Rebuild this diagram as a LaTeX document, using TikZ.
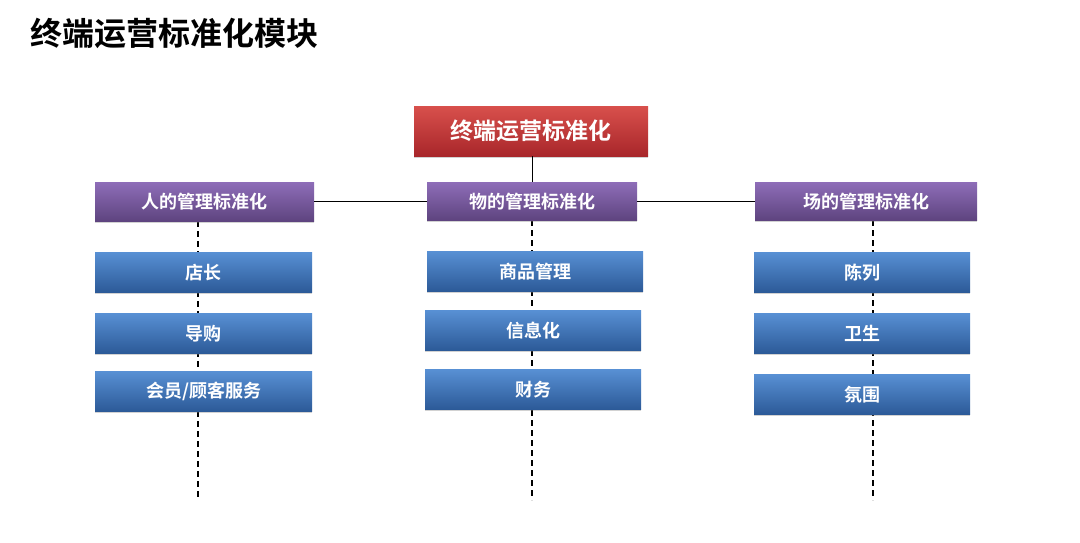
\documentclass[tikz,border=0pt]{standalone}
\usepackage{fontspec}
\newfontfamily\cjk{Noto Sans CJK SC}[BoldFont={Noto Sans CJK SC Bold}]
\usetikzlibrary{shadows}
\definecolor{redtop}{HTML}{D8504C}
\definecolor{redbot}{HTML}{A8262A}
\definecolor{purtop}{HTML}{8E6DB8}
\definecolor{purbot}{HTML}{5E447F}
\definecolor{bluetop}{HTML}{5890D4}
\definecolor{bluebot}{HTML}{2C5A98}
\begin{document}
\begin{tikzpicture}[x=1pt,y=-1pt,
  base/.style={anchor=north west,inner sep=0pt,text=white,font=\cjk\bfseries,
    drop shadow={shadow xshift=0pt,shadow yshift=-2pt,opacity=0.35}},
  redbox/.style={base,top color=redtop,bottom color=redbot,font=\cjk\bfseries\fontsize{23}{25}\selectfont},
  purbox/.style={base,top color=purtop,bottom color=purbot,font=\cjk\bfseries\fontsize{18}{20}\selectfont},
  bluebox/.style={base,top color=bluetop,bottom color=bluebot,font=\cjk\bfseries\fontsize{18}{20}\selectfont},
  solidline/.style={black,line width=1.3pt},
  dashline/.style={black,line width=1.4pt,dash pattern=on 6pt off 4pt}]
\useasboundingbox (0,0) rectangle (1080,543);
\fill[white] (0,0) rectangle (1080,543);
\node[anchor=west,inner sep=0pt,font=\cjk\bfseries\fontsize{32}{34}\selectfont] (title) at (30,33) {终端运营标准化模块};
% dashed verticals
\coordinate (lend) at (198,500);
\coordinate (mend) at (532,500);
\coordinate (rend) at (873,500);
\coordinate (ltop) at (198,221);
\coordinate (mtop) at (532,220);
\coordinate (rtop) at (873,220);
\draw[dashline] (ltop) -- (lend);
\draw[dashline] (mtop) -- (mend);
\draw[dashline] (rtop) -- (rend);
% top
\node[redbox,minimum width=234pt,minimum height=50pt] (top) at (414,106) {终端运营标准化};
\node[purbox,minimum width=219pt,minimum height=39pt] (p1) at (95,182) {人的管理标准化};
\node[purbox,minimum width=210pt,minimum height=38pt] (p2) at (427,182) {物的管理标准化};
\node[purbox,minimum width=222pt,minimum height=38pt] (p3) at (755,182) {场的管理标准化};
\draw[solidline] (top.south -| p2.north) -- (p2.north);
\draw[solidline] (p2.west) -- (p2.west -| p1.east);
\draw[solidline] (p2.east) -- (p3.west);
% blue boxes
\node[bluebox,minimum width=217pt,minimum height=40pt] (a1) at (95,252) {店长};
\node[bluebox,minimum width=217pt,minimum height=40pt] (a2) at (95,313) {导购};
\node[bluebox,minimum width=217pt,minimum height=40pt] (a3) at (95,371) {会员/顾客服务};
\node[bluebox,minimum width=216pt,minimum height=40pt] (b1) at (427,251) {商品管理};
\node[bluebox,minimum width=216pt,minimum height=40pt] (b2) at (425,310) {信息化};
\node[bluebox,minimum width=216pt,minimum height=40pt] (b3) at (425,369) {财务};
\node[bluebox,minimum width=216pt,minimum height=40pt] (c1) at (754,252) {陈列};
\node[bluebox,minimum width=216pt,minimum height=40pt] (c2) at (754,313) {卫生};
\node[bluebox,minimum width=216pt,minimum height=40pt] (c3) at (754,374) {氛围};
\end{tikzpicture}
\end{document}
